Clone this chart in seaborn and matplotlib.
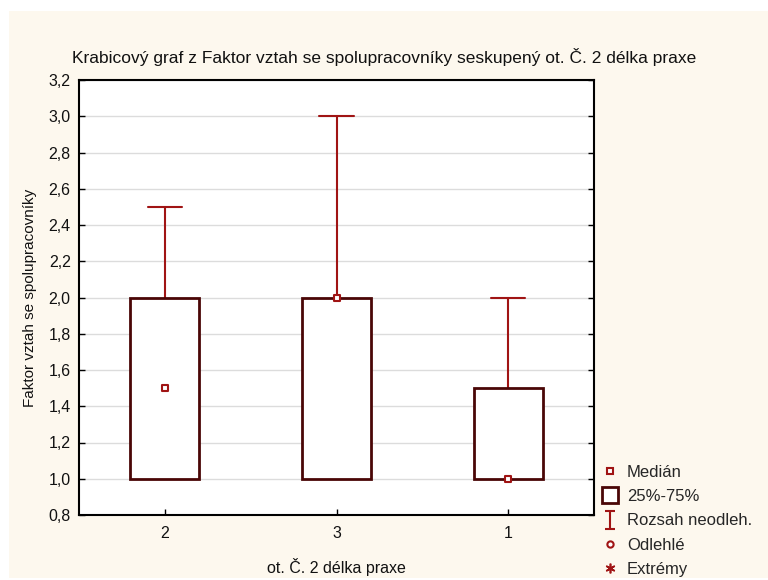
import numpy as np
import matplotlib
matplotlib.use("Agg")
import matplotlib.pyplot as plt
from matplotlib.lines import Line2D
from matplotlib.patches import Rectangle
from matplotlib.path import Path
import seaborn as sns

# Summary statistics of "Faktor vztah se spolupracovníky" per group
groups = ["2", "3", "1"]
medians = [1.5, 2.0, 1.0]
q1 = [1.0, 1.0, 1.0]
q3 = [2.0, 2.0, 1.5]
whisk_lo = [1.0, 1.0, 1.0]
whisk_hi = [2.5, 3.0, 2.0]

yticks = [0.8, 1.0, 1.2, 1.4, 1.6, 1.8, 2.0, 2.2, 2.4, 2.6, 2.8, 3.0, 3.2]

sns.set_theme(style="ticks")
plt.rcParams["font.family"] = ["Liberation Sans", "DejaVu Sans"]

BOX = "#4a0606"
WHISK = "#a01414"
CREAM = "#fdf8ee"
TXT = "#111111"

fig = plt.figure(figsize=(7.68, 5.80), dpi=100)
fig.patch.set_facecolor("white")
fig.patches.append(Rectangle((9 / 768, 2 / 580), 1 - 9 / 768, (578 - 11) / 580,
                             transform=fig.transFigure, facecolor=CREAM,
                             edgecolor="none", zorder=-10))

ax = fig.add_axes([79 / 768, 65 / 580, (594 - 79) / 768, (515 - 80) / 580])
ax.set_facecolor("white")

pos = np.arange(len(groups))
stats = [dict(label=g, med=m, q1=a, q3=b, whislo=lo, whishi=hi, fliers=[])
         for g, m, a, b, lo, hi in zip(groups, medians, q1, q3, whisk_lo, whisk_hi)]

ax.bxp(stats, positions=pos, widths=0.4, patch_artist=True, showfliers=False,
       boxprops=dict(facecolor="white", edgecolor=BOX, linewidth=2.0, zorder=3),
       whiskerprops=dict(color=WHISK, linewidth=1.5, zorder=2),
       capprops=dict(color=WHISK, linewidth=1.5, zorder=2),
       medianprops=dict(linestyle="none"),
       manage_ticks=False)

sns.scatterplot(x=pos, y=medians, ax=ax, marker="s", s=24,
                facecolor="white", edgecolor=WHISK, linewidth=1.5, zorder=4,
                legend=False)

ax.set_xlim(-0.5, len(groups) - 0.5)
ax.set_ylim(0.8, 3.2)
ax.set_xticks(pos)
ax.set_xticklabels(groups)
ax.set_yticks(yticks)
ax.set_yticklabels([f"{v:.1f}".replace(".", ",") for v in yticks])

ax.yaxis.grid(True, color="#dcdcdc", linewidth=1.0)
ax.set_axisbelow(True)
for s in ax.spines.values():
    s.set_visible(True)
    s.set_color("black")
    s.set_linewidth(1.5)
ax.tick_params(axis="both", direction="in", length=4, width=1.0, color="black",
               labelsize=11.5, labelcolor=TXT)
ax.tick_params(axis="y", right=True, pad=6)
ax.tick_params(axis="x", pad=8)

fig.text(0.5, 1 - 57 / 580,
         "Krabicový graf z Faktor vztah se spolupracovníky seskupený ot. Č. 2 délka praxe",
         fontsize=12.5, color=TXT, ha="center", va="center")
ax.set_xlabel("ot. Č. 2 délka praxe", fontsize=11.5, labelpad=12, color=TXT)
ax.set_ylabel("Faktor vztah se spolupracovníky", fontsize=11, labelpad=8, color=TXT)

# Legend with the box plot symbol key
range_marker = Path([(-0.6, 1), (0.6, 1), (0, 1), (0, -1), (-0.6, -1), (0.6, -1)],
                    [Path.MOVETO, Path.LINETO, Path.MOVETO, Path.LINETO,
                     Path.MOVETO, Path.LINETO])
handles = [
    Line2D([], [], ls="none", marker="s", markersize=4.5, mfc="white", mec=WHISK, mew=1.5),
    Line2D([], [], ls="none", marker="s", markersize=12, mfc="white", mec=BOX, mew=2),
    Line2D([], [], ls="none", marker=range_marker, markersize=13, mfc="none", mec=WHISK, mew=1.5),
    Line2D([], [], ls="none", marker="o", markersize=4.5, mfc="white", mec=WHISK, mew=1.5),
    Line2D([], [], ls="none", marker=(6, 2, 0), markersize=7, mec=WHISK, mew=1.2),
]
labels = ["Medián", "25%-75%", "Rozsah neodleh.", "Odlehlé", "Extrémy"]
fig.legend(handles, labels, loc="upper left", bbox_to_anchor=(602 / 768, 1 - 465 / 580),
           frameon=False, fontsize=12, handlelength=1.0, handletextpad=0.5,
           labelspacing=0.55, borderaxespad=0, borderpad=0)

fig.savefig("out.png", dpi=100, facecolor=fig.get_facecolor())
